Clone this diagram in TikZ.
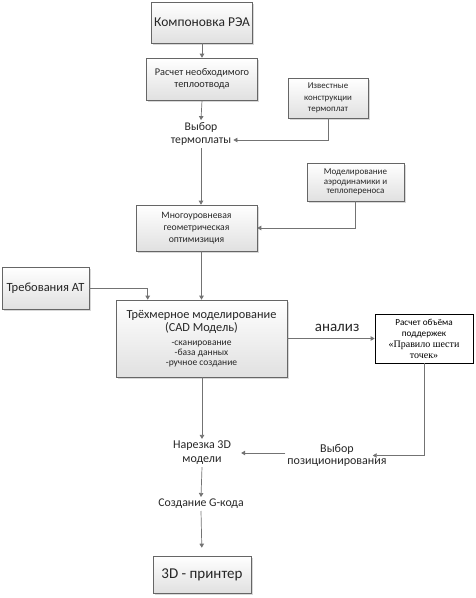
\documentclass[tikz,border=0pt]{standalone}
\usepackage{fontspec}
\setmainfont{Carlito}
\newfontfamily\serifx{Liberation Serif}
\usetikzlibrary{arrows.meta,shadows,calc}
\newcommand\myfs[2]{\fontsize{#1}{#2}\selectfont}
\newcommand\subf{\myfs{9.5}{10.5}}
\newcommand\serf{\serifx\myfs{10}{11.5}}
\tikzset{
  box/.style={draw=black!60, line width=0.6pt, top color=white, bottom color=black!12,
    drop shadow={shadow xshift=1.5pt, shadow yshift=-1.5pt, fill=black!30, opacity=0.5},
    align=center, inner sep=2pt, text=black!85},
  wbox/.style={draw=black, line width=0.7pt, fill=white, align=center, inner sep=2pt, text=black},
  plain/.style={align=center, inner sep=2pt, text=black!85},
  arr/.style={draw=black!55, line width=0.7pt, -{Triangle[length=4pt,width=4.5pt]}},
}
\begin{document}
\begin{tikzpicture}[x=1pt,y=-1pt]
\useasboundingbox (0,0) rectangle (476,598);
\node[box, minimum width=101pt, minimum height=41pt, font=\myfs{13.5}{15}] (b1) at (202,22.5) {Компоновка РЭА};
\node[box, minimum width=111pt, minimum height=42pt, font=\myfs{10.3}{12}] (b2) at (202,79) {Расчет необходимого\\теплоотвода};
\node[box, minimum width=80pt, minimum height=40pt, font=\myfs{8.9}{11.5}] (b3) at (328,98) {Известные\\конструкции\\термоплат};
\node[plain, font=\myfs{11.7}{13.5}] (t4) at (201,134) {Выбор\\термоплаты};
\node[box, minimum width=97pt, minimum height=38pt, font=\myfs{9}{9.8}] (b6) at (355.5,182) {Моделирование\\аэродинамики и\\теплопереноса};
\node[box, minimum width=121pt, minimum height=46pt, font=\myfs{9.7}{12}] (b5) at (196.5,228) {Многоуровневая\\геометрическая\\оптимизиция};
\node[box, minimum width=87pt, minimum height=42pt, font=\myfs{12.5}{14}] (b8) at (45.5,288) {Требования АТ};
\node[box, minimum width=171pt, minimum height=77pt, font=\myfs{12.3}{13.5}] (b7) at (201.5,338.5) {Трёхмерное моделирование\\(CAD Модель)\\\subf -сканирование\\[-3.5pt]\subf -база данных\\[-3.5pt]\subf -ручное создание};
\node[wbox, minimum width=98pt, minimum height=49pt, font=\myfs{9.2}{11}] (b9) at (424,338.5) {Расчет объёма\\поддержек\\\serf «Правило шести\\\serf точек»};
\node[plain, font=\myfs{12}{12.5}] (t11) at (337,455.5) {Выбор\\позиционирования};
\node[plain, font=\myfs{12}{14}] (t12) at (202,453) {Нарезка 3D\\модели};
\node[plain, font=\myfs{11.8}{14}] (t13) at (201,504) {Создание G-кода};
\node[box, minimum width=98pt, minimum height=37pt, font=\myfs{15}{17}] (b15) at (202,574.5) {3D - принтер};
\draw[arr] (b1.south) -- (b2.north);
\draw[arr] (b2.south) -- (t4.north);
\draw[arr] (b3.south) |- ([yshift=-6pt]t4.east);
\draw[arr] (t4.south) -- (t4.south |- b5.north);
\draw[arr] (b6.south) |- (b5.east);
\draw[arr] (b5.south -| b7.north) -- (b7.north);
\draw[arr] (b8.east) -| ([xshift=32pt]b7.north west);
\draw[arr] (b7.east) -- node[pos=0.57, above=3pt, font=\myfs{15}{17}, text=black!85] (lbl) {анализ} (b9.west);
\draw[arr] (b9.south) |- ([xshift=-16pt]t11.east);
\draw[arr, shorten >=8pt] (t11.west |- t12.east) -- (t12.east);
\draw[arr] (b7.south -| t12.north) -- (t12.north);
\draw[arr] (t12.south) -- (t13.north);
\draw[arr, shorten >=8pt] (t13.south) -- (b15.north);
\end{tikzpicture}
\end{document}
